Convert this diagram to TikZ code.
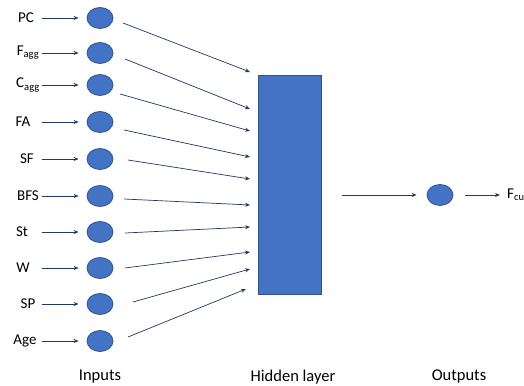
\documentclass[tikz,border=0pt]{standalone}
\usepackage{fontspec}
\setmainfont{Carlito}
\usetikzlibrary{arrows.meta}
\definecolor{nodefill}{HTML}{4472C4}
\definecolor{nodeedge}{HTML}{2F528F}
\definecolor{arrowcol}{HTML}{1F3864}
\tikzset{
  neuron/.style={ellipse, draw=nodeedge, fill=nodefill, line width=0.8pt, minimum width=26pt, minimum height=21pt, inner sep=0pt},
  inlabel/.style={font=\fontsize{15}{17}\selectfont, inner sep=0pt},
  botlabel/.style={font=\fontsize{16.5}{19}\selectfont, inner sep=0pt, anchor=base},
  arr/.style={draw=arrowcol, line width=0.7pt, -{Stealth[length=5pt,width=4pt]}},
}
\usetikzlibrary{shapes.geometric}
\begin{document}
\begin{tikzpicture}[x=1pt,y=-1pt]
\useasboundingbox (0,0) rectangle (524,385);
\coordinate (xs) at (42,0);
% inputs: name/label/label x/center y/start x/start y/tip x/tip y
\foreach \n/\lab/\lx/\cy/\sx/\sy/\tx/\ty in {
  a/PC/26/18/123/23/250/72,
  b/F\textsubscript{agg}/28/53/125/59/250/109,
  c/C\textsubscript{agg}/28/85/120/94/250/131,
  d/FA/23/122/124/130/250/157,
  e/SF/27/159/128/160/250/179,
  f/BFS/28/196/124/199/250/205,
  g/St/22/232/125/233/250/227,
  h/W/23/268/125/268/250/252,
  i/SP/28/304/133/302/250/269,
  j/Age/25/341/128/337/246/289}{
  \node[inlabel] (l\n) at (\lx,\cy) {\lab};
  \node[neuron] (c\n) at (100,\cy) {};
  \coordinate (s\n) at (\sx,\sy);
  \coordinate (t\n) at (\tx,\ty);
  \draw[arr, shorten >=8pt] (l\n.east -| xs) -- (c\n.west);
  \draw[arr] (s\n) -- (t\n);
}
% hidden layer
\node[draw=nodeedge, fill=nodefill, line width=0.8pt, minimum width=63pt, minimum height=219pt, inner sep=0pt] (hid) at (290,185) {};
% output
\node[neuron] (out) at (440,195) {};
\node[inlabel, anchor=west] (fcu) at (507,195) {F\textsubscript{cu}};
\coordinate (hs) at (342,195);
\draw[arr, shorten >=10pt] (hs) -- (out.west);
\draw[arr, shorten <=12pt, shorten >=7pt] (out.east) -- (fcu.west);
% bottom labels
\node[botlabel] (tin) at (100,380) {Inputs};
\node[botlabel] (thid) at (293,381) {Hidden layer};
\node[botlabel] (tout) at (459,380) {Outputs};
\end{tikzpicture}
\end{document}
